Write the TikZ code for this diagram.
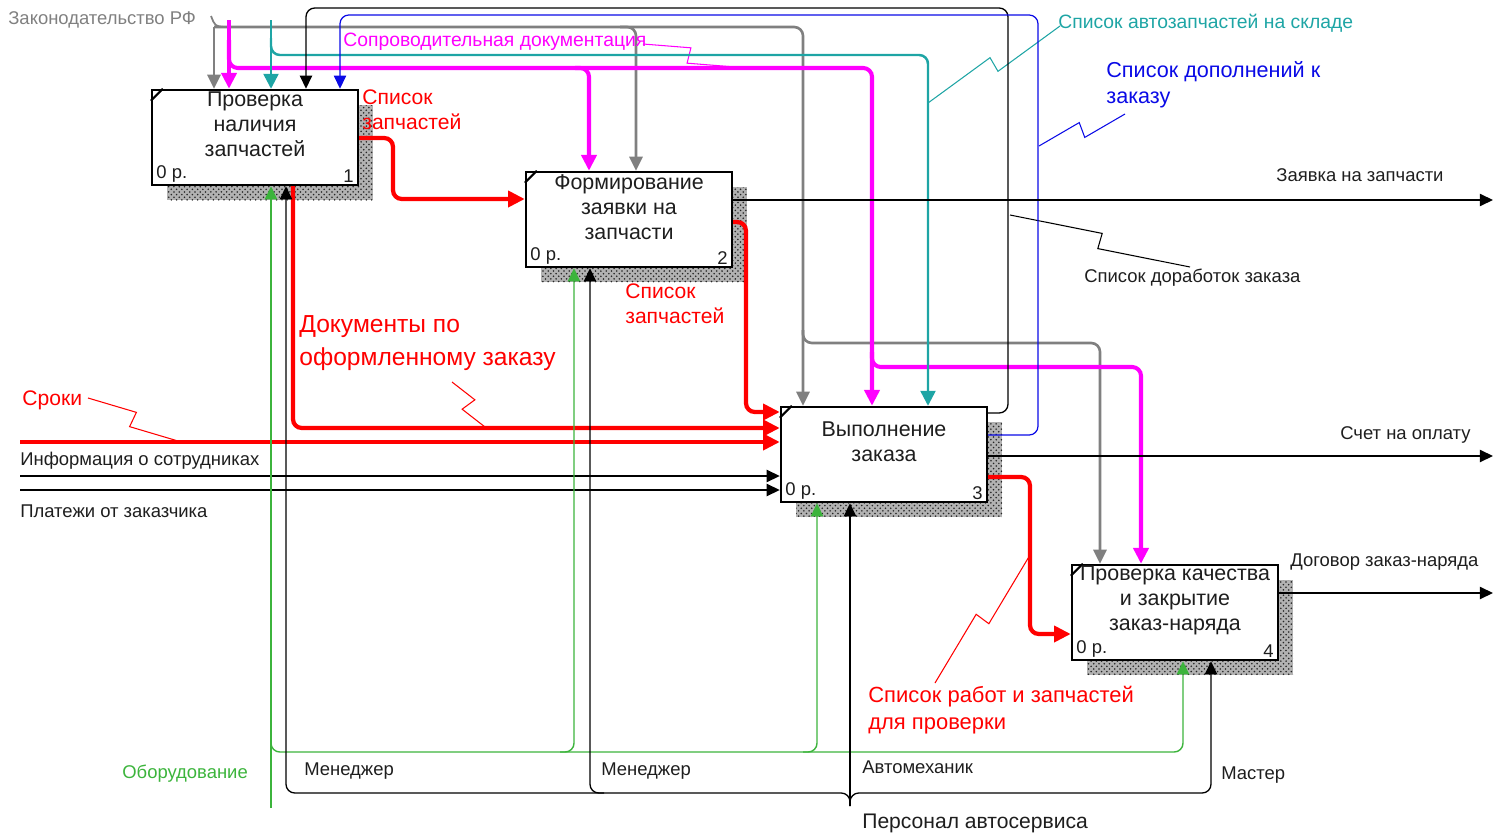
\documentclass[tikz,border=0pt]{standalone}
\usepackage{fontspec}
\setmainfont{Liberation Sans}
\usetikzlibrary{arrows.meta,calc,patterns}
\definecolor{cgray}{RGB}{128,128,128}
\definecolor{cmag}{RGB}{255,0,255}
\definecolor{cteal}{RGB}{30,165,165}
\definecolor{cblue}{RGB}{10,10,230}
\definecolor{cred}{RGB}{255,0,0}
\definecolor{cgreen}{RGB}{60,180,60}
\definecolor{ctext}{RGB}{30,30,30}
\tikzset{
  box/.style={draw, line width=1.4pt, fill=white, minimum width=4.12cm, minimum height=1.9cm, inner sep=0},
  boxtext/.style={align=center, inner sep=0, text=ctext, font=\fontsize{12.2pt}{14.2pt}\selectfont},
  corner/.style={inner xsep=3pt, inner ysep=2pt, text=ctext, font=\fontsize{10.5pt}{12pt}\selectfont},
  shadowbg/.style={fill=black!30},
  shadowpat/.style={pattern=crosshatch dots, pattern color=black!85},
  lbl/.style={inner sep=0, anchor=west, align=left, text=ctext, font=\fontsize{10.5pt}{12.6pt}\selectfont},
  lblm/.style={lbl, font=\fontsize{12pt}{14.4pt}\selectfont},
  rc/.style={rounded corners=5pt},
  rdl/.style={draw=cred, line width=2.4pt, rc, -{Triangle[length=9.5pt,width=9pt]}},
  mgl/.style={draw=cmag, line width=2.3pt, rc, -{Triangle[length=9pt,width=8.5pt]}},
  grl/.style={draw=cgray, line width=1.5pt, rc, -{Triangle[length=8pt,width=7.5pt]}},
  tll/.style={draw=cteal, line width=1.4pt, rc, -{Triangle[length=8.5pt,width=8.5pt]}},
  bkl/.style={draw=black, line width=0.75pt, rc, -{Triangle[length=7.5pt,width=7pt]}},
  bll/.style={draw=cblue, line width=0.7pt, rc, -{Triangle[length=7.5pt,width=7pt]}},
  gnl/.style={draw=cgreen, line width=0.8pt, rc, -{Triangle[length=7.5pt,width=7pt]}},
  sq/.style={line width=0.6pt},
}
\newcommand\mysquig[3]{\draw[sq,#3] (#1) -- ($(#1)!0.5!(#2)!4.5pt!90:(#2)$) -- ($(#1)!0.5!(#2)!4.5pt!-90:(#2)$) -- (#2);}
\begin{document}
\begin{tikzpicture}[x=0.02cm,y=-0.02cm]
\useasboundingbox (0,0) rectangle (1495,835);
% shadows
\foreach \x/\y in {167/105,541/187,796/422,1087/580}{
  \fill[shadowbg] (\x,\y) rectangle ++(206,95);
  \fill[shadowpat] (\x,\y) rectangle ++(206,95);
}
% boxes
\node[box] (b1) at (255,137.5) {};
\node[box] (b2) at (629,219.5) {};
\node[box] (b3) at (884,454.5) {};
\node[box] (b4) at (1175,612.5) {};
\foreach \b in {b1,b2,b3,b4}{\draw[line width=1.2pt] (\b.north west) ++(0,12) -- ++(12,-12);}
\node[boxtext] (t1) at (255,124) {Проверка\\наличия\\запчастей};
\node[boxtext] (t2) at (629,207.5) {Формирование\\заявки на\\запчасти};
\node[boxtext] (t3) at (884,441.5) {Выполнение\\заказа};
\node[boxtext] (t4) at (1175,600.5) {Проверка качества\\и закрытие\\заказ-наряда};
\node[corner, anchor=south west] (c1) at (b1.south west) {0 р.};
\node[corner, anchor=south east] (n1) at (b1.south east) {1};
\node[corner, anchor=south west] (c2) at (b2.south west) {0 р.};
\node[corner, anchor=south east] (n2) at (b2.south east) {2};
\node[corner, anchor=south west] (c3) at (b3.south west) {0 р.};
\node[corner, anchor=south east] (n3) at (b3.south east) {3};
\node[corner, anchor=south west] (c4) at (b4.south west) {0 р.};
\node[corner, anchor=south east] (n4) at (b4.south east) {4};

% gray: Законодательство РФ
\node[lbl, text=cgray] (lz) at (8,20) {Законодательство РФ};
\coordinate (gz) at (214,27);
\draw[draw=cgray, line width=1pt] (211,16) .. controls (215,26) .. (224,27);
\draw[grl] (gz) -- (214,0 |- b1.north);
\draw[grl] (gz) -| (803,0 |- b3.north);
\draw[grl] (620,27) -| (636,0 |- b2.north);
\draw[grl] (803,330) |- (1100,343) -- (1100,0 |- b4.north);

% magenta: Сопроводительная документация
\draw[mgl] (229,20) -- (229,0 |- b1.north);
\draw[mgl] (229,40) |- (872,68) -- (872,0 |- b3.north);
\draw[mgl] (575,68) -| (589,0 |- b2.north);
\draw[mgl] (872,352) |- (1141,367) -- (1141,0 |- b4.north);
\node[lbl, text=cmag, font=\fontsize{11pt}{13pt}\selectfont] (lsd) at (343,42) {Сопроводительная документация};
\coordinate (sqa1) at (643,44); \coordinate (sqa2) at (735,67);
\mysquig{sqa1}{sqa2}{draw=cmag}

% teal: Список автозапчастей на складе
\draw[tll] (271,20) -- (271,0 |- b1.north);
\draw[tll] (271,38) |- (928,55) -- (928,0 |- b3.north);
\node[lbl, text=cteal, font=\fontsize{11pt}{13pt}\selectfont] (lsk) at (1058,23) {Список автозапчастей на складе};
\coordinate (sqb1) at (1060,26); \coordinate (sqb2) at (928,103);
\mysquig{sqb1}{sqb2}{draw=cteal}

% black feedback: Список доработок заказа
\draw[bkl] (b3.east |- 0,413) -| (1008,8) -| (306,0 |- b1.north);
\node[lbl] (ldr) at (1084,278) {Список доработок заказа};
\coordinate (sqd1) at (1010,215); \coordinate (sqd2) at (1190,267);
\mysquig{sqd1}{sqd2}{draw=black}

% blue feedback: Список дополнений к заказу
\draw[bll] (b3.east |- 0,435) -| (1038,15) -| (340,0 |- b1.north);
\node[lblm, text=cblue, font=\fontsize{12.3pt}{14.8pt}\selectfont] (ldp) at (1106,85) {Список дополнений к\\заказу};
\coordinate (sqc1) at (1125,114); \coordinate (sqc2) at (1039,146);
\mysquig{sqc1}{sqc2}{draw=cblue}

% red flows
\draw[rdl] (b1.east |- 0,138) -| (393,199) -- (b2.west |- 0,199);
\node[lblm, text=cred] (lsz1) at (362,109.5) {Список\\запчастей};
\draw[rdl] (293,0 |- b1.south) |- (b3.west |- 0,428);
\node[lbl, text=cred, font=\fontsize{14pt}{18.7pt}\selectfont] (ldoc) at (299,343.5) {Документы по\\оформленному заказу};
\coordinate (sqf1) at (452,382); \coordinate (sqf2) at (485,427);
\mysquig{sqf1}{sqf2}{draw=cred}
\draw[rdl] (b2.east |- 0,222) -| (746,412) -- (b3.west |- 0,412);
\node[lblm, text=cred] (lsz2) at (625,304) {Список\\запчастей};
\coordinate (srk) at (20,442);
\draw[rdl] (srk) -- (b3.west |- 0,442);
\node[lblm, text=cred] (lsr) at (22,400) {Сроки};
\coordinate (sqe1) at (88,398); \coordinate (sqe2) at (178,441);
\mysquig{sqe1}{sqe2}{draw=cred}
\draw[rdl] (b3.east |- 0,477) -| (1030,634) -- (b4.west |- 0,634);
\node[lblm, text=cred, font=\fontsize{12.5pt}{15.3pt}\selectfont] (lsp) at (868,710.5) {Список работ и запчастей\\для проверки};
\coordinate (sqg1) at (1030,555); \coordinate (sqg2) at (935,683);
\mysquig{sqg1}{sqg2}{draw=cred}

% black inputs
\coordinate (inf) at (20,476);
\coordinate (plt) at (20,490);
\draw[bkl] (inf) -- (b3.west |- 0,476);
\draw[bkl] (plt) -- (b3.west |- 0,490);
\node[lbl] (linf) at (20,461) {Информация о сотрудниках};
\node[lbl] (lplt) at (20,511) {Платежи от заказчика};

% outputs
\coordinate (o1) at (1493,200);
\coordinate (o2) at (1493,456);
\coordinate (o3) at (1493,593);
\draw[bkl] (b2.east |- 0,200) -- (o1);
\draw[bkl] (b3.east |- 0,456) -- (o2);
\draw[bkl] (b4.east |- 0,593) -- (o3);
\node[lbl] (lo1) at (1276,175) {Заявка на запчасти};
\node[lbl] (lo2) at (1340,435) {Счет на оплату};
\node[lbl] (lo3) at (1290,562) {Договор заказ-наряда};

% green mechanisms
\coordinate (eq) at (271,808);
\draw[gnl] (eq) -- (271,0 |- b1.south);
\draw[gnl] (271,740) |- (1183,752) -- (1183,0 |- b4.south);
\draw[gnl] (560,752) -| (574,0 |- b2.south);
\draw[gnl] (803,752) -| (817,0 |- b3.south);
\node[lbl, text=cgreen] (leq) at (122,774) {Оборудование};

% black mechanisms
\coordinate (pers) at (850,806);
\draw[bkl] (pers) |- (286,793) -- (286,0 |- b1.south);
\draw[bkl] (pers) |- (1211,793) -- (1211,0 |- b4.south);
\draw[bkl] (pers) -- (850,0 |- b3.south);
\draw[bkl] (604,793) -| (590,0 |- b2.south);
\node[lbl] (lm1) at (304,771) {Менеджер};
\node[lbl] (lm2) at (601,771) {Менеджер};
\node[lbl] (lav) at (862,767) {Автомеханик};
\node[lbl] (lms) at (1221,775) {Мастер};
\node[lblm] (lpers) at (862,823) {Персонал автосервиса};
\end{tikzpicture}
\end{document}
